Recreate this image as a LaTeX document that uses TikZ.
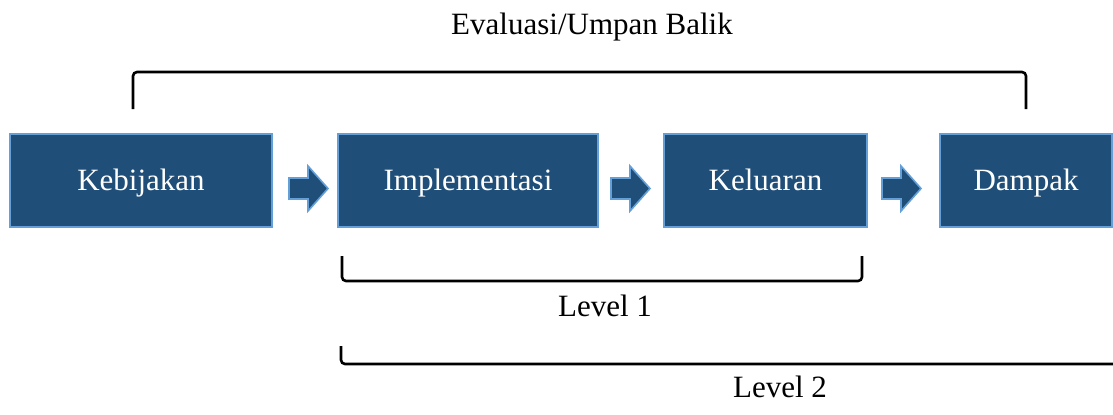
\documentclass[tikz,border=0pt]{standalone}
\usepackage{fontspec}
\setmainfont{Liberation Serif}
\usetikzlibrary{positioning}

\definecolor{boxblue}{RGB}{31,78,121}
\definecolor{edgeblue}{RGB}{100,160,215}

\begin{document}
\begin{tikzpicture}[
    x=0.5pt, y=-0.5pt,
    stage/.style={draw=edgeblue, fill=boxblue, line width=1pt, text=white,
        font=\fontsize{15.5}{18}\selectfont, minimum height=46.5pt, inner sep=0pt,
        text height=0.66em+3pt, text depth=0pt},
    blockarrow/.style={draw=edgeblue, fill=boxblue, line width=0.8pt},
    bracket/.style={line width=1.3pt, rounded corners=2pt},
    label/.style={font=\fontsize{15.5}{18}\selectfont, inner sep=0pt,
        text height=0.66em, text depth=0pt}
]
    \useasboundingbox (0,0) rectangle (1113,414);

    % === Stages ===
    \node[stage, minimum width=131pt] (kebijakan) at (141,180.5) {Kebijakan};
    \node[stage, minimum width=130pt] (implementasi) at (468,180.5) {Implementasi};
    \node[stage, minimum width=101.5pt] (keluaran) at (765.5,180.5) {Keluaran};
    \node[stage, minimum width=86pt] (dampak) at (1026,180.5) {Dampak};

    % Block arrows between stages
    \foreach \ax in {289, 611, 882} {
        \draw[blockarrow] (\ax,178) -- ++(19,0) -- ++(0,-12) -- ++(20,22.5)
            -- ++(-20,22.5) -- ++(0,-12) -- ++(-19,0) -- cycle;
    }

    % === Feedback bracket ===
    \draw[bracket] (133,109) -- (133,72) -- (1026,72) -- (1026,109);
    \node[label] (evaluasi) at (592,28) {Evaluasi/Umpan Balik};

    % === Level brackets ===
    \draw[bracket] (342,256) -- (342,281) -- (862,281) -- (862,256);
    \node[label] (level1) at (605,310) {Level 1};

    \draw[bracket] (341,346) -- (341,364) -- (1113,364);
    \node[label] (level2) at (780,391) {Level 2};

\end{tikzpicture}
\end{document}
